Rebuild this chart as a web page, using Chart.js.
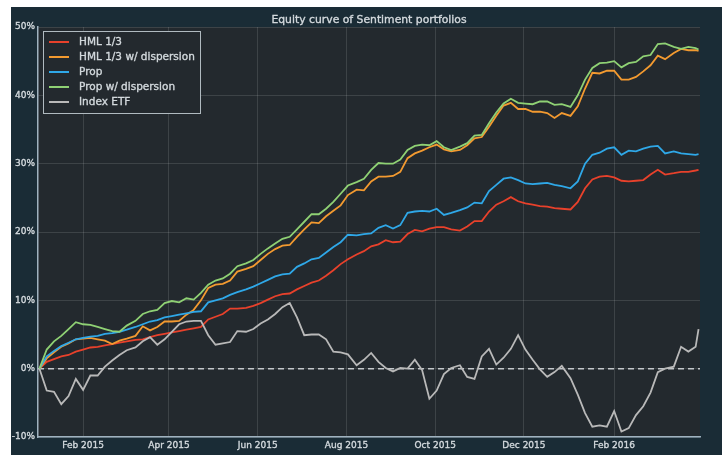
<!DOCTYPE html>
<html>
<head>
<meta charset="utf-8">
<script src="https://cdn.jsdelivr.net/npm/chart.js@4"></script>
<style>
  html, body { margin: 0; padding: 0; background: #fff; }
  #wrap { position: absolute; left: 11px; top: 7px; width: 711px; height: 448px; }
</style>
</head>
<body>
<div id="wrap"><canvas id="equityChart" width="711" height="448"></canvas></div>
<script>
// days since 1 Jan 2015
const days = [1, 6, 11, 16, 21, 26, 31, 36, 41, 46, 51, 56, 61,
  67, 72, 77, 82, 87, 92, 97, 102, 107, 112, 117, 122, 127, 132, 137,
  143, 148, 153, 158, 163, 168, 173, 178, 183, 188, 193, 198, 203, 208, 213,
  219, 224, 229, 234, 239, 244, 249, 254, 259, 264, 269, 274, 279, 284,
  290, 295, 300, 305, 310, 315, 320, 325, 330, 335, 340, 345, 350, 355, 360,
  366, 371, 376, 381, 386, 391, 396, 401, 406, 411, 416, 421, 426, 431,
  437, 442, 447, 452, 454];

const hml = [0, 1.0, 1.4, 1.8, 2.0, 2.5, 2.8, 3.1, 3.2, 3.4,
  3.6, 3.8, 4.0, 4.2, 4.3, 4.6, 4.9, 5.1, 5.3, 5.5,
  5.7, 5.9, 6.1, 7.2, 7.6, 8.0, 8.8, 8.8, 8.9, 9.2,
  9.6, 10.1, 10.6, 10.9, 11.0, 11.6, 12.1, 12.6, 12.9, 13.6,
  14.4, 15.3, 16.0, 16.7, 17.2, 17.9, 18.2, 18.8, 18.5, 18.6,
  19.7, 20.3, 20.1, 20.5, 20.7, 20.7, 20.4, 20.2, 20.8, 21.6,
  21.6, 23.0, 24.0, 24.5, 25.1, 24.5, 24.2, 24.0, 23.8, 23.7,
  23.5, 23.4, 23.3, 24.4, 26.4, 27.7, 28.1, 28.2, 28.0, 27.5,
  27.4, 27.5, 27.6, 28.4, 29.1, 28.4, 28.6, 28.8, 28.8, 29.0, 29.1];

const hmlDisp = [0, 1.5, 2.4, 3.2, 3.7, 4.3, 4.4, 4.5, 4.3, 4.1,
  3.6, 4.1, 4.4, 4.8, 6.2, 5.6, 6.1, 6.9, 6.9, 7.0,
  7.9, 8.6, 10.0, 11.8, 12.3, 12.4, 12.9, 14.2, 14.6, 15.0,
  15.9, 16.8, 17.5, 18.0, 18.1, 19.3, 20.4, 21.4, 21.3, 22.3,
  23.1, 23.9, 25.4, 26.2, 26.1, 27.4, 28.1, 28.1, 28.2, 28.8,
  30.8, 31.5, 31.9, 32.4, 32.8, 32.1, 31.8, 32.0, 32.7, 33.7,
  33.9, 35.4, 37.0, 38.5, 38.9, 38.0, 38.0, 37.6, 37.6, 37.4,
  36.7, 37.4, 37.0, 38.4, 41.0, 43.3, 43.2, 43.6, 43.6, 42.3,
  42.3, 42.7, 43.5, 44.4, 45.8, 45.3, 46.2, 46.8, 46.6, 46.6, 46.5];

const prop = [0, 1.8, 2.6, 3.3, 3.8, 4.3, 4.5, 4.7, 4.8, 5.1,
  5.2, 5.4, 5.7, 6.1, 6.5, 6.9, 7.1, 7.5, 7.7, 7.9,
  8.1, 8.3, 8.4, 9.7, 10.0, 10.3, 10.8, 11.2, 11.6, 12.0,
  12.5, 13.0, 13.5, 13.8, 13.9, 14.9, 15.4, 16.0, 16.2, 17.0,
  17.8, 18.5, 19.6, 19.5, 19.7, 19.8, 20.6, 21.0, 20.5, 21.0,
  22.8, 23.0, 23.1, 23.0, 23.4, 22.5, 22.8, 23.2, 23.6, 24.3,
  24.2, 26.0, 26.9, 27.8, 28.0, 27.6, 27.1, 27.0, 27.1, 27.2,
  26.9, 26.7, 26.4, 27.4, 30.0, 31.3, 31.6, 32.2, 32.4, 31.3,
  31.9, 31.8, 32.2, 32.5, 32.6, 31.5, 31.8, 31.5, 31.4, 31.3, 31.4];

const propDisp = [0, 2.8, 4.0, 4.8, 5.8, 6.8, 6.5, 6.4, 6.1, 5.8,
  5.5, 5.4, 6.3, 7.0, 8.0, 8.4, 8.6, 9.6, 9.9, 9.7,
  10.3, 10.1, 11.1, 12.3, 12.9, 13.2, 13.9, 15.0, 15.4, 15.9,
  16.8, 17.6, 18.3, 19.0, 19.3, 20.4, 21.5, 22.6, 22.6, 23.4,
  24.4, 25.6, 26.8, 27.3, 27.8, 29.1, 30.1, 30.0, 30.0, 30.6,
  32.0, 32.6, 32.8, 32.7, 33.3, 32.4, 32.0, 32.5, 33.0, 34.1,
  34.2, 35.9, 37.5, 38.8, 39.5, 38.9, 38.8, 38.7, 39.1, 39.1,
  38.6, 38.7, 38.3, 40.0, 42.3, 44.0, 44.7, 44.8, 45.0, 44.1,
  44.7, 44.9, 45.7, 45.9, 47.5, 47.6, 47.1, 46.8, 47.1, 46.9, 46.7];

const etf = [0, -3.2, -3.4, -5.2, -4.0, -1.5, -3.1, -1.0, -1.0, 0.3,
  1.2, 2.0, 2.7, 3.1, 4.0, 4.6, 3.5, 4.3, 5.4, 6.5,
  6.9, 7.0, 7.0, 4.9, 3.5, 3.7, 3.9, 5.5, 5.4, 5.8,
  6.6, 7.2, 8.0, 9.0, 9.6, 7.5, 4.9, 5.0, 5.0, 4.3,
  2.5, 2.4, 2.1, 0.5, 1.3, 2.3, 1.0, 0.1, -0.4, 0.1,
  0.0, 1.3, -0.2, -4.4, -3.2, -0.8, 0.1, 0.5, -1.2, -1.5,
  1.8, 2.9, 0.6, 1.6, 2.9, 4.9, 2.8, 1.3, -0.1, -1.2,
  -0.5, 0.4, -1.4, -3.8, -6.5, -8.5, -8.3, -8.5, -6.2, -9.2,
  -8.7, -6.8, -5.5, -3.5, -0.5, 0.0, 0.3, 3.2, 2.5, 3.2, 5.8];

const seriesNames = ['HML 1/3', 'HML 1/3 w/ dispersion', 'Prop', 'Prop w/ dispersion', 'Index ETF'];
const tickDays = [31, 90, 151, 212, 273, 334, 396];
const tickLabels = ['Feb 2015', 'Apr 2015', 'Jun 2015', 'Aug 2015', 'Oct 2015', 'Dec 2015', 'Feb 2016'];

const colors = ['#e8412b', '#f39a30', '#2fa8e8', '#8fd174', '#b9b9b9'];
const outerBg = '#1a2c36';
const plotBg = '#23292e';
const textColor = '#d3d9dd';
const gridColor = 'rgba(255,255,255,0.12)';
const font = 'DejaVu Sans';

function toPoints(vals) {
  return vals.map((v, i) => ({ x: days[i], y: v }));
}

const datasets = [hml, hmlDisp, prop, propDisp, etf].map((vals, i) => ({
  label: seriesNames[i],
  data: toPoints(vals),
  borderColor: colors[i],
  borderWidth: 1.8,
  pointRadius: 0,
  tension: 0,
  order: 5 - i
}));

// fill + thin stroke, the reference text looks heavy
function heavyText(ctx, txt, x, y) {
  ctx.fillText(txt, x, y);
  ctx.strokeText(txt, x, y);
}

// background, zero line, title and legend box
const decor = {
  id: 'decor',
  beforeDraw(chart) {
    const { ctx, chartArea: a } = chart;
    ctx.save();
    ctx.fillStyle = outerBg;
    ctx.fillRect(0, 0, chart.width, chart.height);
    ctx.fillStyle = plotBg;
    ctx.fillRect(a.left, a.top, a.right - a.left, a.bottom - a.top);
    ctx.restore();
  },
  beforeDatasetsDraw(chart) {
    const { ctx, chartArea: a, scales } = chart;
    const y0 = scales.y.getPixelForValue(0);
    ctx.save();
    ctx.strokeStyle = '#c4c8cb';
    ctx.lineWidth = 1.5;
    ctx.setLineDash([6, 4]);
    ctx.beginPath();
    ctx.moveTo(a.left, y0);
    ctx.lineTo(a.right, y0);
    ctx.stroke();
    ctx.restore();
  },
  afterDraw(chart) {
    const { ctx, chartArea: a } = chart;
    ctx.save();
    ctx.fillStyle = textColor;
    ctx.strokeStyle = textColor;
    ctx.lineWidth = 0.35;
    ctx.font = '10.8px "' + font + '"';
    ctx.textAlign = 'center';
    ctx.textBaseline = 'middle';
    heavyText(ctx, 'Equity curve of Sentiment portfolios', (a.left + a.right) / 2, 13);

    // legend
    const bx = a.left + 5, by = a.top + 4, bw = 157, bh = 82;
    ctx.fillStyle = plotBg;
    ctx.fillRect(bx, by, bw, bh);
    ctx.strokeStyle = '#b0bac0';
    ctx.lineWidth = 1;
    ctx.strokeRect(bx + 0.5, by + 0.5, bw, bh);
    ctx.font = '10.5px "' + font + '"';
    ctx.textAlign = 'left';
    chart.data.datasets.forEach((ds, i) => {
      const y = by + 11 + i * 15;
      ctx.strokeStyle = ds.borderColor;
      ctx.lineWidth = 2;
      ctx.beginPath();
      ctx.moveTo(bx + 6, y);
      ctx.lineTo(bx + 26, y);
      ctx.stroke();
      ctx.fillStyle = textColor;
      ctx.strokeStyle = textColor;
      ctx.lineWidth = 0.35;
      heavyText(ctx, ds.label, bx + 36, y + 0.5);
    });
    ctx.restore();
  }
};

new Chart(document.getElementById('equityChart'), {
  type: 'line',
  data: { datasets },
  plugins: [decor],
  options: {
    responsive: false,
    devicePixelRatio: 1,
    animation: false,
    layout: { autoPadding: false, padding: { top: 20, right: 22, left: 0, bottom: 0 } },
    plugins: { legend: { display: false }, tooltip: { enabled: false }, title: { display: false } },
    scales: {
      x: {
        type: 'linear',
        min: 0,
        max: 455,
        afterBuildTicks: s => { s.ticks = tickDays.map(v => ({ value: v })); },
        afterFit: s => { s.height = 18; },
        ticks: {
          autoSkip: false,
          maxRotation: 0,
          padding: 3,
          color: textColor,
          textStrokeColor: textColor,
          textStrokeWidth: 0.35,
          font: { family: font, size: 9 },
          callback: v => tickLabels[tickDays.indexOf(v)]
        },
        grid: { color: gridColor, drawTicks: false },
        border: { display: true, color: '#9fb2bf', width: 1.5 }
      },
      y: {
        min: -10,
        max: 50,
        afterFit: s => { s.width = 27; },
        ticks: {
          stepSize: 10,
          padding: 3,
          color: textColor,
          textStrokeColor: textColor,
          textStrokeWidth: 0.35,
          font: { family: font, size: 9 },
          callback: v => v + '%'
        },
        grid: { color: gridColor, drawTicks: false },
        border: { display: true, color: '#9fb2bf', width: 1.5 }
      }
    }
  }
});
</script>
</body>
</html>
